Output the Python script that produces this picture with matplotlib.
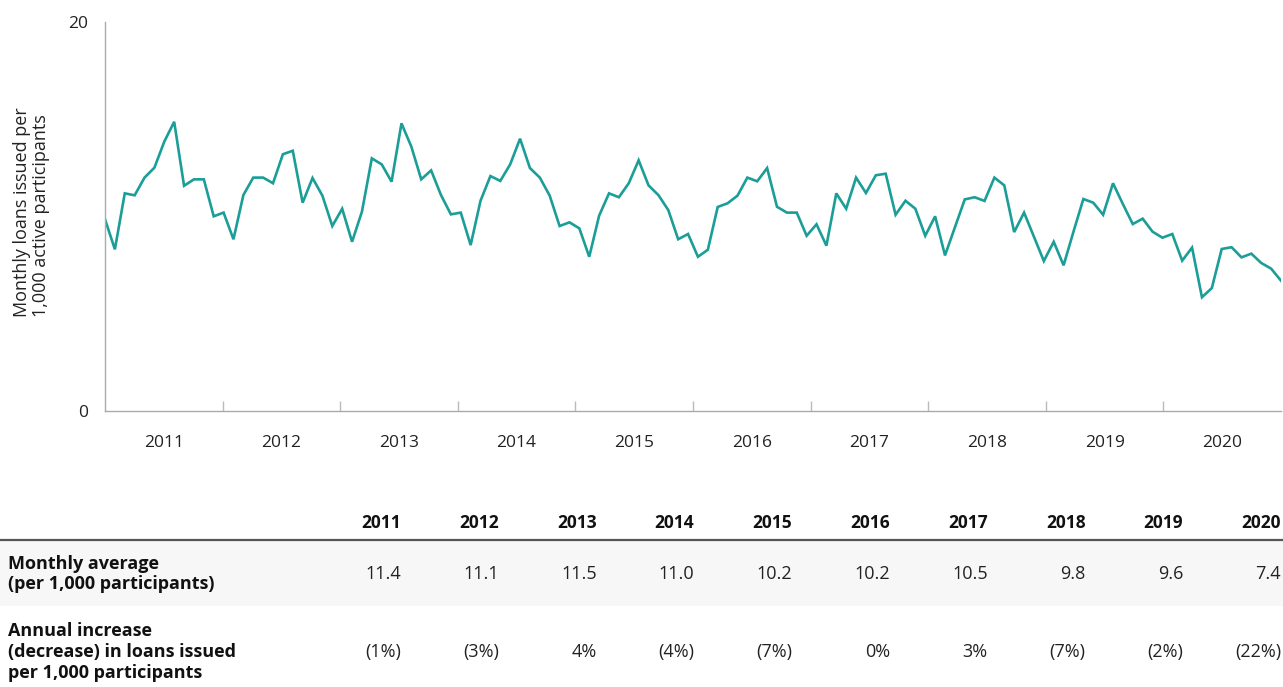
import matplotlib.pyplot as plt
import numpy as np
from matplotlib.patches import Rectangle

plt.rcParams['font.family'] = ['Open Sans', 'DejaVu Sans']

years = [2011, 2012, 2013, 2014, 2015, 2016, 2017, 2018, 2019, 2020]

# monthly loans issued per 1,000 active participants, Jan 2011 - Dec 2020
loans_2011 = [9.86, 8.31, 11.19, 11.09, 12.0, 12.51, 13.85, 14.87, 11.58, 11.91, 11.91, 10.01]
loans_2012 = [10.2, 8.83, 11.1, 12.0, 12.0, 11.71, 13.2, 13.38, 10.71, 11.98, 11.07, 9.51]
loans_2013 = [10.4, 8.7, 10.25, 12.99, 12.68, 11.79, 14.79, 13.59, 11.91, 12.37, 11.1, 10.11]
loans_2014 = [10.2, 8.53, 10.81, 12.08, 11.83, 12.68, 14.0, 12.49, 12.0, 11.07, 9.51, 9.7]
loans_2015 = [9.39, 7.93, 10.04, 11.19, 10.99, 11.71, 12.89, 11.6, 11.1, 10.33, 8.83, 9.1]
loans_2016 = [7.93, 8.29, 10.49, 10.68, 11.07, 12.0, 11.81, 12.49, 10.5, 10.2, 10.2, 9.01]
loans_2017 = [9.6, 8.5, 11.19, 10.4, 12.0, 11.21, 12.12, 12.2, 10.09, 10.81, 10.4, 9.01]
loans_2018 = [10.01, 8.0, 9.44, 10.88, 10.99, 10.8, 12.0, 11.6, 9.2, 10.2, 8.96, 7.71]
loans_2019 = [8.7, 7.49, 9.22, 10.9, 10.71, 10.09, 11.71, 10.64, 9.61, 9.89, 9.22, 8.91]
loans_2020 = [9.1, 7.73, 8.4, 5.85, 6.32, 8.33, 8.42, 7.9, 8.09, 7.61, 7.32, 6.7]

monthly_avg = ['11.4', '11.1', '11.5', '11.0', '10.2', '10.2', '10.5', '9.8', '9.6', '7.4']
annual_change = ['(1%)', '(3%)', '4%', '(4%)', '(7%)', '0%', '3%', '(7%)', '(2%)', '(22%)']

loans = np.array(loans_2011 + loans_2012 + loans_2013 + loans_2014 + loans_2015
                 + loans_2016 + loans_2017 + loans_2018 + loans_2019 + loans_2020)
months = np.arange(len(loans))

W, H = 1283, 687
fig = plt.figure(figsize=(W / 100, H / 100), dpi=100)

# line chart
ax = fig.add_axes([105 / W, 1 - 411 / H, 1176 / W, 389 / H])
ax.plot(months, loans, color='#1b9e97', lw=1.9, solid_joinstyle='miter')
ax.set_xlim(0, len(loans) - 1)
ax.set_ylim(0, 20)
ax.set_yticks([0, 20])
ax.tick_params(axis='y', length=0, labelsize=12.5, pad=12, colors='#222222')

band = (len(loans) - 1) / len(years)
ax.set_xticks([band * k for k in range(1, len(years))])
ax.set_xticks([band * (k + 0.5) for k in range(len(years))], minor=True)
ax.set_xticklabels(years, minor=True)
ax.set_xticklabels([])
ax.tick_params(axis='x', which='major', direction='in', length=7, width=1, color='#bbbbbb')
ax.tick_params(axis='x', which='minor', length=0, labelsize=12.5, pad=17, colors='#222222')

for side in ['top', 'right']:
    ax.spines[side].set_visible(False)
for side in ['left', 'bottom']:
    ax.spines[side].set_color('#aaaaaa')
    ax.spines[side].set_linewidth(1)

fig.text(13 / W, 1 - 212 / H, 'Monthly loans issued per\n1,000 active participants',
         rotation=90, ha='left', va='center', fontsize=13, color='#222222',
         linespacing=1.05)

# summary table under the chart
tab = fig.add_axes([0, 0, 1, 187 / H])
tab.set_xlim(0, W)
tab.set_ylim(H, 500)
tab.axis('off')

col_x = np.linspace(401, 1281, len(years))
tab.add_patch(Rectangle((0, 541), W, 65, color='#f7f7f7', lw=0))
tab.plot([0, W], [540, 540], color='#555555', lw=1.6)

for x, yr, avg, chg in zip(col_x, years, monthly_avg, annual_change):
    tab.text(x, 523, str(yr), ha='right', va='center', fontsize=12.5,
             fontweight='bold', color='#111111')
    tab.text(x, 574, avg, ha='right', va='center', fontsize=13, color='#222222')
    tab.text(x, 652, chg, ha='right', va='center', fontsize=13, color='#222222')

tab.text(8, 574, 'Monthly average\n(per 1,000 participants)', ha='left', va='center',
         fontsize=13, fontweight='bold', color='#111111', linespacing=1.2)
tab.text(8, 652, 'Annual increase\n(decrease) in loans issued\nper 1,000 participants',
         ha='left', va='center', fontsize=13, fontweight='bold', color='#111111',
         linespacing=1.2)

fig.savefig('out.png', dpi=100)
